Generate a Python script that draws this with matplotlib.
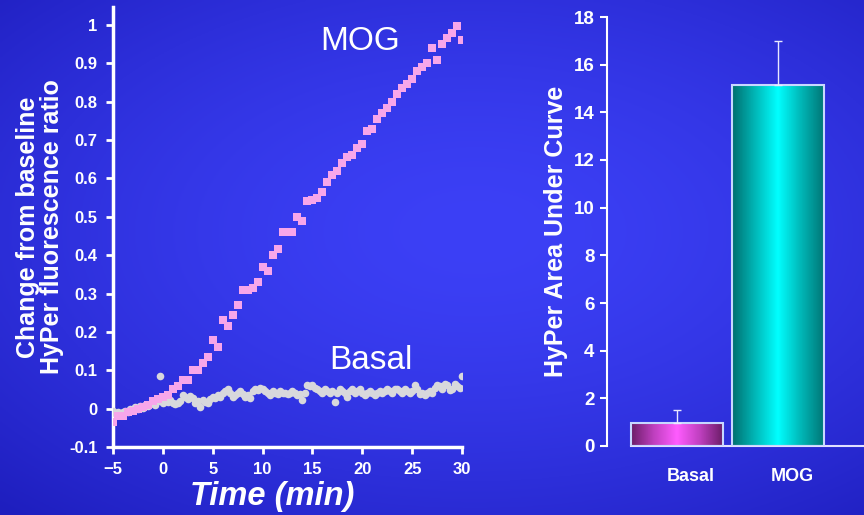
import numpy as np
import matplotlib.pyplot as plt
from matplotlib.colors import LinearSegmentedColormap

# ---- data ----
mog_time = np.arange(-5, 30.01, 0.5)
mog_vals = [-0.035, -0.02, -0.02, -0.01, -0.005, 0.0, 0.005, 0.01, 0.02, 0.025,
            0.03, 0.035, 0.05, 0.06, 0.075, 0.075, 0.10, 0.10, 0.12, 0.135,
            0.18, 0.16, 0.23, 0.215, 0.245, 0.27, 0.31, 0.31, 0.315, 0.33,
            0.37, 0.36, 0.40, 0.415, 0.46, 0.46, 0.46, 0.50, 0.49, 0.54,
            0.545, 0.55, 0.565, 0.59, 0.61, 0.62, 0.64, 0.655, 0.66, 0.68,
            0.69, 0.725, 0.73, 0.755, 0.77, 0.785, 0.80, 0.82, 0.835, 0.845,
            0.86, 0.88, 0.89, 0.90, 0.94, 0.91, 0.95, 0.965, 0.98, 0.997, 0.96]

basal_time = np.arange(-5, 30.01, 0.25)
basal_vals = [-0.005, -0.012, -0.008, -0.015, -0.01, -0.005, -0.01, 0.0, -0.004, 0.004,
              0.0, 0.006, 0.002, 0.01, 0.006, 0.012, 0.015, 0.01, 0.02, 0.085, 0.015,
              0.02, 0.018, 0.022, 0.015, 0.012, 0.014, 0.02, 0.035, 0.03, 0.025,
              0.032, 0.028, 0.015, 0.02, 0.005, 0.022, 0.018, 0.015, 0.025, 0.03,
              0.028, 0.035, 0.03, 0.04, 0.045, 0.052, 0.04, 0.03, 0.035, 0.04,
              0.045, 0.038, 0.03, 0.035, 0.028, 0.045, 0.052, 0.048, 0.055, 0.052,
              0.045, 0.04, 0.035, 0.045, 0.04, 0.038, 0.045, 0.04, 0.042, 0.038,
              0.04, 0.045, 0.04, 0.035, 0.038, 0.023, 0.04, 0.062, 0.06, 0.062,
              0.055, 0.05, 0.045, 0.04, 0.05, 0.045, 0.04, 0.045, 0.018, 0.04,
              0.05, 0.045, 0.04, 0.03, 0.045, 0.05, 0.04, 0.045, 0.05, 0.04,
              0.035, 0.04, 0.045, 0.04, 0.035, 0.04, 0.045, 0.04, 0.045, 0.05,
              0.045, 0.04, 0.05, 0.052, 0.045, 0.04, 0.05, 0.045, 0.04, 0.045,
              0.062, 0.05, 0.037, 0.04, 0.035, 0.04, 0.045, 0.04, 0.055, 0.062,
              0.06, 0.05, 0.065, 0.062, 0.048, 0.052, 0.065, 0.06, 0.055, 0.084]

bar_names = ['Basal', 'MOG']
bar_vals = [0.97, 15.15]
bar_err = [0.55, 1.85]

x_ticks = [-5, 0, 5, 10, 15, 20, 25, 30]
y_ticks = [-0.1, 0, 0.1, 0.2, 0.3, 0.4, 0.5, 0.6, 0.7, 0.8, 0.9, 1]
y_ticklabels = ['-0.1', '0', '0.1', '0.2', '0.3', '0.4', '0.5', '0.6', '0.7', '0.8', '0.9', '1']
bar_yticks = [0, 2, 4, 6, 8, 10, 12, 14, 16, 18]

plt.rcParams['font.family'] = ['Liberation Sans', 'DejaVu Sans']
white = 'white'

fig = plt.figure(figsize=(8.64, 5.15), dpi=100)

# blue slide background
bg = fig.add_axes([0, 0, 1, 1], zorder=-10)
yy, xx = np.mgrid[0:1:200j, 0:1:300j]
r = np.sqrt(((xx - 0.55) / 0.8) ** 2 + ((yy - 0.45) / 0.75) ** 2)
r = np.clip(r, 0, 1)
c_in = np.array([60, 64, 246]) / 255
c_out = np.array([30, 30, 190]) / 255
img = c_in[None, None, :] * (1 - r[..., None] ** 1.6) + c_out[None, None, :] * r[..., None] ** 1.6
bg.imshow(img, extent=[0, 1, 0, 1], aspect='auto', origin='upper')
bg.axis('off')

# ---- left: time course ----
ax = fig.add_axes([113 / 864, 1 - 447 / 515, 349 / 864, 440 / 515])
ax.patch.set_alpha(0)
ax.scatter(basal_time, basal_vals, s=30, marker='o', color='#d8d8dc', linewidths=0, zorder=3)
ax.scatter(mog_time, mog_vals, s=26, marker='s', color='#f7a6ea', linewidths=0, zorder=4)
ax.set_xlim(-5, 30)
ax.set_ylim(-0.1, 1.047)
ax.set_xticks(x_ticks)
ax.set_yticks(y_ticks)
ax.set_yticklabels(y_ticklabels)
for s in ['top', 'right']:
    ax.spines[s].set_visible(False)
for s in ['left', 'bottom']:
    ax.spines[s].set_color(white)
    ax.spines[s].set_linewidth(2.5)
ax.tick_params(colors=white, width=2, length=5, labelsize=12, pad=6)
for lbl in ax.get_xticklabels() + ax.get_yticklabels():
    lbl.set_fontweight('bold')
ax.set_ylabel('Change from baseline\nHyPer fluorescence ratio', color=white,
              fontsize=18, fontweight='bold', linespacing=1.0, labelpad=4)
ax.text(19.8, 0.958, 'MOG', color=white, fontsize=24, ha='center', va='center')
ax.text(20.9, 0.126, 'Basal', color=white, fontsize=24, ha='center', va='center')
fig.text(272 / 864, 1 - 497 / 515, 'Time (min)', color=white, fontsize=23.5,
         fontweight='bold', style='italic', ha='center', va='center')

# ---- right: area under curve ----
ax2 = fig.add_axes([607 / 864, 1 - 446 / 515, 257 / 864, 429 / 515])
ax2.patch.set_alpha(0)
ax2.set_xlim(-0.693, 1.85)
ax2.set_ylim(0, 18)
xpos = np.arange(len(bar_names))
bar_w = 0.91
cmaps = [LinearSegmentedColormap.from_list('b', ['#6e1e6a', '#c040c0', '#ff5cff', '#c040c0', '#6e1e6a']),
         LinearSegmentedColormap.from_list('m', ['#007070', '#00b8b8', '#00ffff', '#00b8b8', '#007878'])]
bars = ax2.bar(xpos, bar_vals, width=bar_w, color='none', edgecolor='#c8d8ff',
               linewidth=1.5, zorder=3)
for b, cm in zip(bars, cmaps):
    x0, w, h = b.get_x(), b.get_width(), b.get_height()
    grad = np.linspace(0, 1, 100)[None, :]
    im = ax2.imshow(grad, cmap=cm, extent=[x0, x0 + w, 0, h], aspect='auto', zorder=2)
    im.set_clip_path(b)
ax2.errorbar(xpos, bar_vals, yerr=[[0, 0], bar_err], fmt='none', ecolor='#e8e8ff',
             elinewidth=1, capsize=3, capthick=1, zorder=4)
# category labels sit a little right of the bar centres
ax2.set_xticks(xpos + 0.14)
ax2.set_xticklabels(bar_names, fontsize=13, fontweight='bold')
ax2.tick_params(axis='x', length=0, pad=16, colors=white)
ax2.set_yticks(bar_yticks)
ax2.tick_params(axis='y', colors=white, width=1.5, length=5, pad=4)
for lbl in ax2.get_yticklabels():
    lbl.set_fontsize(13.5)
    lbl.set_fontweight('bold')
for s in ['top', 'right']:
    ax2.spines[s].set_visible(False)
ax2.spines['left'].set_color(white)
ax2.spines['left'].set_linewidth(1.5)
ax2.spines['bottom'].set_color('#e0e0ff')
ax2.spines['bottom'].set_linewidth(1.5)
ax2.spines['bottom'].set_bounds(-0.46, 1.85)
ax2.set_ylabel('HyPer Area Under Curve', color=white, fontsize=18,
               fontweight='bold', labelpad=4)

fig.savefig('out.png', dpi=100)
